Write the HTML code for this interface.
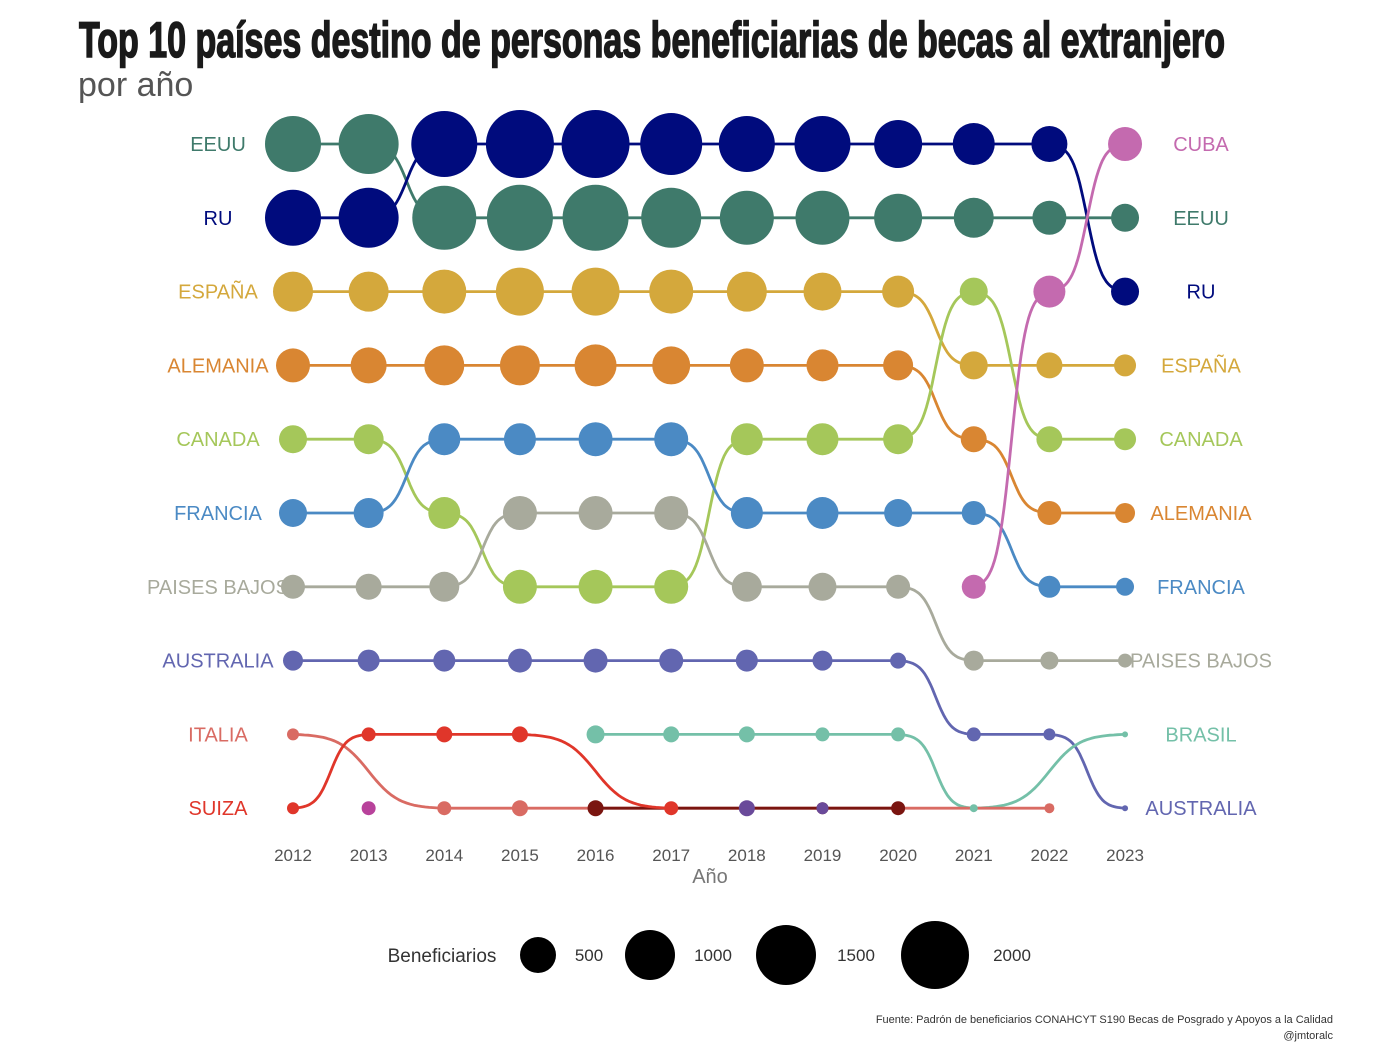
<!DOCTYPE html>
<html><head><meta charset="utf-8"><style>
html,body{margin:0;padding:0;background:#fff;}
svg{display:block;}
text{font-family:"Liberation Sans",sans-serif;}
</style></head><body>
<svg id="s" width="1392" height="1046" viewBox="0 0 1392 1046" xmlns="http://www.w3.org/2000/svg">
<text x="79" y="57" font-size="50" font-weight="bold" fill="#1a1a1a" stroke="#1a1a1a" stroke-width="1.6" textLength="1146" lengthAdjust="spacingAndGlyphs">Top 10 países destino de personas beneficiarias de becas al extranjero</text>
<text x="78" y="96" font-size="34" fill="#555">por año</text>
<g id="g"></g>
<text x="442" y="962" font-size="19" fill="#333" text-anchor="middle">Beneficiarios</text>
<circle cx="538" cy="955" r="18" fill="#000"/><text x="589" y="961" font-size="17" fill="#333" text-anchor="middle">500</text>
<circle cx="650" cy="955" r="25" fill="#000"/><text x="713" y="961" font-size="17" fill="#333" text-anchor="middle">1000</text>
<circle cx="786" cy="955" r="30" fill="#000"/><text x="856" y="961" font-size="17" fill="#333" text-anchor="middle">1500</text>
<circle cx="935" cy="955" r="34" fill="#000"/><text x="1012" y="961" font-size="17" fill="#333" text-anchor="middle">2000</text>
<text x="1333" y="1023" font-size="11" fill="#333" text-anchor="end">Fuente: Padrón de beneficiarios CONAHCYT S190 Becas de Posgrado y Apoyos a la Calidad</text>
<text x="1333" y="1039" font-size="11" fill="#333" text-anchor="end">@jmtoralc</text>
</svg>
<script>
const X=y=>293+(y-2012)*75.64, Y=r=>144+r*73.8;
const g=document.getElementById('g');let h='';
const S=[
['#3f7a6b',[[2012,0,28],[2013,0,30],[2014,1,32],[2015,1,33],[2016,1,33],[2017,1,30],[2018,1,27],[2019,1,27],[2020,1,24],[2021,1,20],[2022,1,17],[2023,1,14]]],
['#000b7d',[[2012,1,28],[2013,1,30],[2014,0,33],[2015,0,34],[2016,0,34],[2017,0,31],[2018,0,28],[2019,0,28],[2020,0,24],[2021,0,21],[2022,0,18],[2023,2,14]]],
['#d4a83c',[[2012,2,20],[2013,2,20],[2014,2,22],[2015,2,24],[2016,2,24],[2017,2,22],[2018,2,20],[2019,2,19],[2020,2,16],[2021,3,14],[2022,3,13],[2023,3,11]]],
['#d98632',[[2012,3,17],[2013,3,18],[2014,3,20],[2015,3,20],[2016,3,21],[2017,3,19],[2018,3,17],[2019,3,16],[2020,3,15],[2021,4,13],[2022,5,12],[2023,5,10]]],
['#a5c75a',[[2012,4,14],[2013,4,15],[2014,5,16],[2015,6,17],[2016,6,17],[2017,6,17],[2018,4,16],[2019,4,16],[2020,4,15],[2021,2,14],[2022,4,13],[2023,4,11]]],
['#4b8ac4',[[2012,5,14],[2013,5,15],[2014,4,16],[2015,4,16],[2016,4,17],[2017,4,17],[2018,5,16],[2019,5,16],[2020,5,14],[2021,5,12],[2022,6,11],[2023,6,9]]],
['#a8aa9c',[[2012,6,12],[2013,6,13],[2014,6,15],[2015,5,17],[2016,5,17],[2017,5,17],[2018,6,15],[2019,6,14],[2020,6,12],[2021,7,10],[2022,7,9],[2023,7,7]]],
['#c46aaf',[[2021,6,12],[2022,2,16],[2023,0,17]]],
['#6266b0',[[2012,7,10],[2013,7,11],[2014,7,11],[2015,7,12],[2016,7,12],[2017,7,12],[2018,7,11],[2019,7,10],[2020,7,8],[2021,8,7],[2022,8,6],[2023,9,3]]],
['#74c0a8',[[2016,8,9],[2017,8,8],[2018,8,8],[2019,8,7],[2020,8,7],[2021,9,4],[2023,8,3]]],
['#d96b63',[[2012,8,6],[2014,9,7],[2015,9,8],[2016,9,0],[2020,9,0],[2022,9,5]]],
['#7a1510',[[2016,9,8],[2018,9,7],[2019,9,6],[2020,9,7]]],
['#e0362a',[[2012,9,6],[2013,8,7],[2014,8,8],[2015,8,8],[2017,9,7]]],
];
const sg=t=>1/(1+Math.exp(-10*(t-0.5)));const s0=sg(0),s1=sg(1);
let circ='';
for(const [c,p] of S){
 let d=`M${X(p[0][0])},${Y(p[0][1])}`;
 for(let i=1;i<p.length;i++){const x1=X(p[i-1][0]),y1=Y(p[i-1][1]),x2=X(p[i][0]),y2=Y(p[i][1]);
  if(y1==y2)d+=` L${x2},${y2}`;else{for(let k=1;k<=40;k++){const t=k/40;const f=(sg(t)-s0)/(s1-s0);d+=` L${(x1+(x2-x1)*t).toFixed(1)},${(y1+(y2-y1)*f).toFixed(1)}`;}}}
 h+=`<path d="${d}" fill="none" stroke="${c}" stroke-width="2.8" stroke-linejoin="round"/>`;
 for(const q of p)if(q[2])circ+=`<circle cx="${X(q[0])}" cy="${Y(q[1])}" r="${q[2]}" fill="${c}"/>`;
}
circ+=`<circle cx="${X(2013)}" cy="${Y(9)}" r="7" fill="#b8429b"/><circle cx="${X(2018)}" cy="${Y(9)}" r="8" fill="#6a4a9a"/><circle cx="${X(2019)}" cy="${Y(9)}" r="6" fill="#6a4a9a"/><circle cx="${X(2017)}" cy="${Y(9)}" r="6" fill="#e0362a"/>`;
h+=circ;
const L=[['EEUU','#3f7a6b'],['RU','#000b7d'],['ESPAÑA','#d4a83c'],['ALEMANIA','#d98632'],['CANADA','#a5c75a'],['FRANCIA','#4b8ac4'],['PAISES BAJOS','#a8aa9c'],['AUSTRALIA','#6266b0'],['ITALIA','#d96b63'],['SUIZA','#e0362a']];
const R=[['CUBA','#c46aaf'],['EEUU','#3f7a6b'],['RU','#000b7d'],['ESPAÑA','#d4a83c'],['CANADA','#a5c75a'],['ALEMANIA','#d98632'],['FRANCIA','#4b8ac4'],['PAISES BAJOS','#a8aa9c'],['BRASIL','#74c0a8'],['AUSTRALIA','#6266b0']];
L.forEach((l,i)=>h+=`<text x="218" y="${Y(i)+7}" font-size="20" fill="${l[1]}" text-anchor="middle">${l[0]}</text>`);
R.forEach((l,i)=>h+=`<text x="1201" y="${Y(i)+7}" font-size="20" fill="${l[1]}" text-anchor="middle">${l[0]}</text>`);
for(let y=2012;y<=2023;y++)h+=`<text x="${X(y)}" y="861" font-size="17" fill="#555" text-anchor="middle">${y}</text>`;
h+=`<text x="710" y="883" font-size="20" fill="#777" text-anchor="middle">Año</text>`;
g.innerHTML=h;
</script>
</body></html>
